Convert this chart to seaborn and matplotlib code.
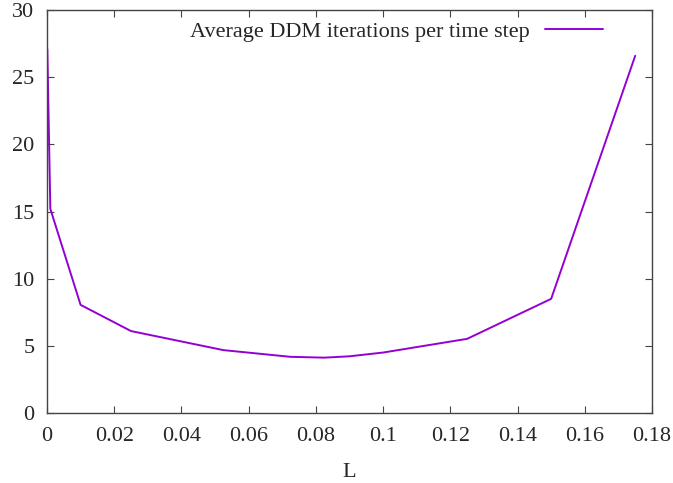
import matplotlib
matplotlib.use('Agg')
import matplotlib.pyplot as plt
import seaborn as sns
import pandas as pd

# values
L_values = [0.0001, 0.001, 0.01, 0.025, 0.0525, 0.0725, 0.0825, 0.09, 0.1, 0.125, 0.15, 0.175]
avg_iters = [27.1, 15.2, 8.05, 6.1, 4.68, 4.18, 4.12, 4.22, 4.5, 5.52, 8.5, 26.6]
x_ticks = [0, 0.02, 0.04, 0.06, 0.08, 0.1, 0.12, 0.14, 0.16, 0.18]
x_labels = ['0', '0.02', '0.04', '0.06', '0.08', '0.1', '0.12', '0.14', '0.16', '0.18']
y_ticks = [0, 5, 10, 15, 20, 25, 30]

df = pd.DataFrame({'L': L_values, 'iters': avg_iters})

sns.set_style('ticks')
plt.rcParams['font.family'] = ['Liberation Serif', 'DejaVu Serif']
plt.rcParams['font.size'] = 16

fig = plt.figure(figsize=(6.73, 4.83), dpi=100)
ax = fig.add_axes([0.0698, 0.145, 0.899, 0.834])

sns.lineplot(data=df, x='L', y='iters', ax=ax, color='#9400D3', linewidth=1.4,
             label='Average DDM iterations per time step')

ax.set_xlim(0, 0.18)
ax.set_ylim(0, 30)
ax.set_xticks(x_ticks)
ax.set_xticklabels(x_labels)
ax.set_yticks(y_ticks)
ax.set_xlabel('L', fontsize=16, labelpad=12)
ax.set_ylabel('')

for s in ax.spines.values():
    s.set_color('#444444')
    s.set_linewidth(1.0)
ax.tick_params(direction='in', length=5, width=0.8, color='#444444',
               top=True, right=True, labelsize=16)
ax.tick_params(axis='x', pad=10)
ax.tick_params(axis='y', pad=9)

leg = ax.legend(loc='upper right', bbox_to_anchor=(0.934, 0.995), frameon=False,
                markerfirst=False, handlelength=2.6, handletextpad=0.7,
                fontsize=16, borderaxespad=0)

fig.savefig('out.png', dpi=100)
